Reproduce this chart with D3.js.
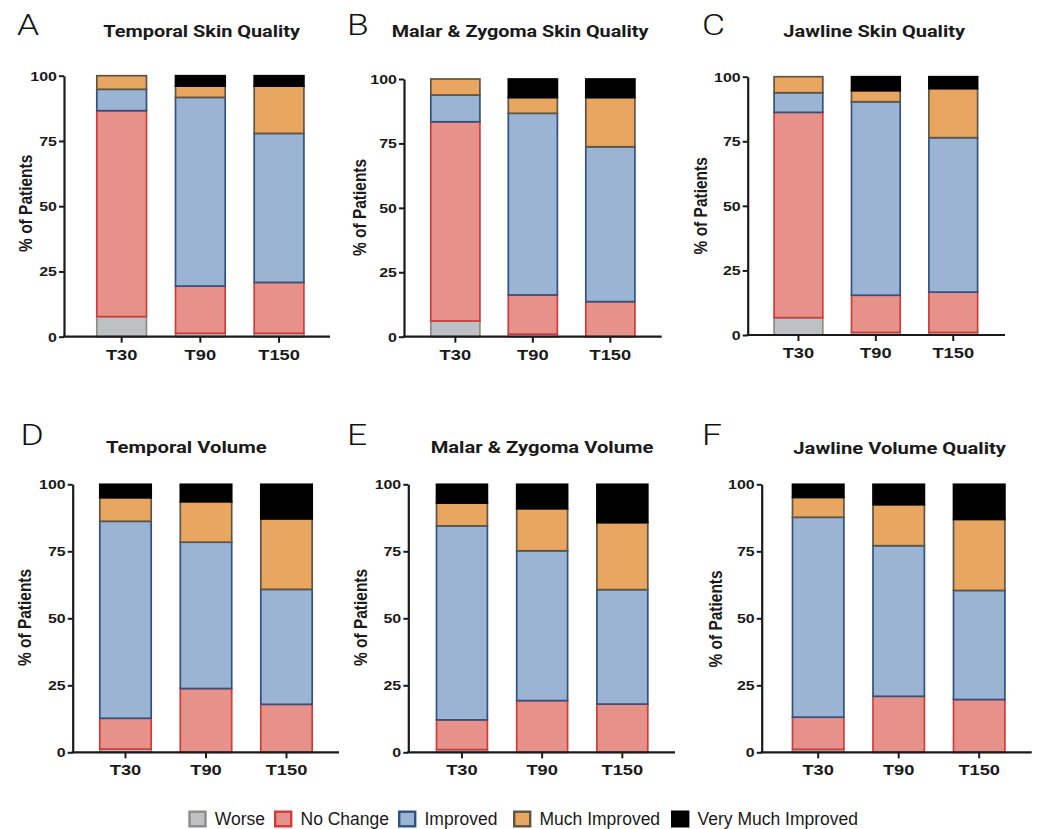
<!DOCTYPE html>
<html><head><meta charset="utf-8">
<script src="https://cdn.jsdelivr.net/npm/d3@7"></script>
<style>html,body{margin:0;padding:0;background:#fff}svg{display:block}</style>
</head><body>
<svg id="chart" width="1038" height="829"></svg>
<script>
// ---------------- DATA ----------------
const timepoints = ["T30", "T90", "T150"];
const responses = ["Worse", "No Change", "Improved", "Much Improved", "Very Much Improved"];
const yTicks = [0, 25, 50, 75, 100];
const panelLetters = ["A", "B", "C", "D", "E", "F"];
const panelTitles = ["Temporal Skin Quality", "Malar & Zygoma Skin Quality", "Jawline Skin Quality",
                     "Temporal Volume", "Malar & Zygoma Volume", "Jawline Volume Quality"];
const yAxisTitle = "% of Patients";

// each row = one timepoint (T30, T90, T150); columns = % of patients per response
const temporalSkin   = [[7.7, 78.9, 8.2, 5.2, 0], [1.3, 18.1, 72.3, 4.3, 4.0], [1.3, 19.5, 57.1, 18.1, 4.0]];
const malarSkin      = [[6.1, 77.3, 10.4, 6.2, 0], [1.0, 15.2, 70.5, 6.1, 7.2], [0, 13.6, 60.1, 19.1, 7.2]];
const jawlineSkin    = [[6.7, 79.5, 7.6, 6.2, 0], [1.0, 14.4, 74.9, 4.3, 5.4], [1.0, 15.6, 59.8, 19.0, 4.6]];
const temporalVolume = [[1.2, 11.5, 73.5, 8.8, 5.0], [0, 23.8, 54.6, 15.1, 6.5], [0, 17.9, 42.9, 26.3, 12.9]];
const malarVolume    = [[1.0, 11.1, 72.4, 8.5, 7.0], [0, 19.3, 55.9, 15.7, 9.1], [0, 18.0, 42.7, 25.0, 14.3]];
const jawlineVolume  = [[1.1, 12.0, 74.6, 7.4, 4.9], [0, 20.9, 56.2, 15.3, 7.6], [0, 19.7, 40.7, 26.5, 13.1]];
const panelData = [temporalSkin, malarSkin, jawlineSkin, temporalVolume, malarVolume, jawlineVolume];

// ---------------- STYLE / LAYOUT ----------------
const fills   = ["#bdc1c3", "#e6918a", "#9bb4d3", "#e8a660", "#000000"];
const strokes = ["#8d8c85", "#d03c3b", "#2f5281", "#5f5542", "#000000"];
const stretchX = 1.18;

const layout = [
  {axisX: 64,    axisEnd: 330,    yTop: 75.7, yBot: 336.7, b0: 96,    step: 78.7, bw: 51.3, tX: 201.7, tY: 36.7, tW: 196.7, lX: 17,  lY: 35,  aX: 25,    aY: 203.3},
  {axisX: 404,   axisEnd: 661.7,  yTop: 79,   yBot: 336.7, b0: 430,   step: 77.5, bw: 50.7, tX: 520,   tY: 37.3, tW: 256.7, lX: 347, lY: 35,  aX: 359,   aY: 207.5},
  {axisX: 747.7, axisEnd: 1005,   yTop: 76.7, yBot: 335,   b0: 773.3, step: 77.4, bw: 50.3, tX: 874.2, tY: 36.7, tW: 181.7, lX: 702, lY: 35,  aX: 700,   aY: 205.8},
  {axisX: 72.7,  axisEnd: 339,    yTop: 484.3, yBot: 752.3, b0: 99,   step: 80.5, bw: 53,   tX: 186.3, tY: 453.3, tW: 160.7, lX: 20.5, lY: 445, aX: 24.5, aY: 617.5},
  {axisX: 408.3, axisEnd: 675,    yTop: 484.3, yBot: 752.3, b0: 435.7, step: 80.2, bw: 52.5, tX: 542,  tY: 453.3, tW: 222.7, lX: 347, lY: 445, aX: 360,  aY: 617.5},
  {axisX: 761.7, axisEnd: 1031.7, yTop: 484.3, yBot: 752.3, b0: 791.7, step: 80.5, bw: 53,   tX: 899.7, tY: 454,  tW: 212.7, lX: 702, lY: 445, aX: 715.7, aY: 619}
];
const legendSquareX = [188.3, 274, 398, 513, 671];

// ---------------- DRAW ----------------
const svg = d3.select("#chart");
const stack = d3.stack().keys(responses);

panelData.forEach((rows, i) => {
  const L = layout[i];
  const g = svg.append("g");
  const table = rows.map((r, j) => {
    const o = {time: timepoints[j]};
    responses.forEach((k, m) => o[k] = r[m]);
    return o;
  });
  const series = stack(table);

  const x = d3.scaleBand().domain(timepoints)
    .range([L.b0, L.b0 + 2 * L.step + L.bw])
    .paddingInner(1 - L.bw / L.step).paddingOuter(0);
  const y = d3.scaleLinear().domain([0, 100]).range([L.yBot, L.yTop]);

  // bars
  series.forEach((s, si) => {
    g.append("g").selectAll("rect")
      .data(s.filter(d => d[1] - d[0] > 0))
      .join("rect")
      .attr("x", d => x(d.data.time) + 0.8)
      .attr("width", x.bandwidth() - 1.6)
      .attr("y", d => y(d[1]))
      .attr("height", d => Math.max(0.01, y(d[0]) - y(d[1])))
      .attr("fill", fills[si])
      .attr("stroke", strokes[si])
      .attr("stroke-width", 1.7);
  });

  // y axis
  const ya = g.append("g").attr("transform", `translate(${L.axisX},0)`)
    .call(d3.axisLeft(y).tickValues(yTicks).tickSize(5).tickSizeOuter(0).tickPadding(1));
  ya.select(".domain").attr("stroke", "#1a1a1a").attr("stroke-width", 2.2);
  ya.selectAll(".tick line").attr("stroke", "#1a1a1a").attr("stroke-width", 2);
  ya.selectAll(".tick text").attr("font-family", "'Liberation Sans', Arial, sans-serif")
    .attr("font-weight", "bold").attr("font-size", "13.5px").attr("fill", "#1a1a1a")
    .attr("transform", `scale(${stretchX},1)`);

  // x axis
  const xa = g.append("g").attr("transform", `translate(0,${L.yBot})`)
    .call(d3.axisBottom(x).tickSize(6).tickPadding(6));
  xa.select(".domain").remove();
  xa.selectAll(".tick line").attr("stroke", "#1a1a1a").attr("stroke-width", 2);
  xa.selectAll(".tick text").attr("font-family", "'Liberation Sans', Arial, sans-serif")
    .attr("font-weight", "bold").attr("font-size", "15.5px").attr("fill", "#1a1a1a")
    .attr("transform", `scale(${stretchX},1)`);
  g.append("line").attr("x1", L.axisX - 1.1).attr("x2", L.axisEnd)
    .attr("y1", L.yBot).attr("y2", L.yBot)
    .attr("stroke", "#1a1a1a").attr("stroke-width", 2.2);

  // title
  g.append("text").attr("x", L.tX).attr("y", L.tY).attr("text-anchor", "middle")
    .attr("font-family", "Roboto, sans-serif").attr("font-weight", 700).attr("font-size", "16.5px")
    .attr("fill", "#1a1a1a")
    .attr("textLength", L.tW).attr("lengthAdjust", "spacingAndGlyphs")
    .text(panelTitles[i]);

  // panel letter
  g.append("text").attr("transform", `translate(${L.lX},${L.lY}) scale(${stretchX},1)`)
    .attr("font-family", "Roboto, sans-serif").attr("font-weight", 300).attr("font-size", "30px")
    .attr("fill", "#111").text(panelLetters[i]);

  // y axis title
  g.append("text")
    .attr("transform", `translate(${L.aX + 6.5},${L.aY}) scale(${stretchX},1) rotate(-90)`)
    .attr("text-anchor", "middle")
    .attr("font-family", "'Liberation Sans', Arial, sans-serif")
    .attr("font-weight", "bold").attr("font-size", "15.5px").attr("fill", "#1a1a1a")
    .text(yAxisTitle);
});

// legend
const lg = svg.append("g");
responses.forEach((r, i) => {
  const sx = legendSquareX[i];
  lg.append("rect").attr("x", sx + 1.2).attr("y", 811.7).attr("width", 16).attr("height", 14.6)
    .attr("fill", fills[i]).attr("stroke", strokes[i]).attr("stroke-width", 2.4);
  lg.append("text").attr("x", sx + 26.5).attr("y", 825)
    .attr("font-family", "'Liberation Sans', Arial, sans-serif")
    .attr("font-size", "17.5px").attr("fill", "#1a1a1a").text(r);
});
</script>
</body></html>
